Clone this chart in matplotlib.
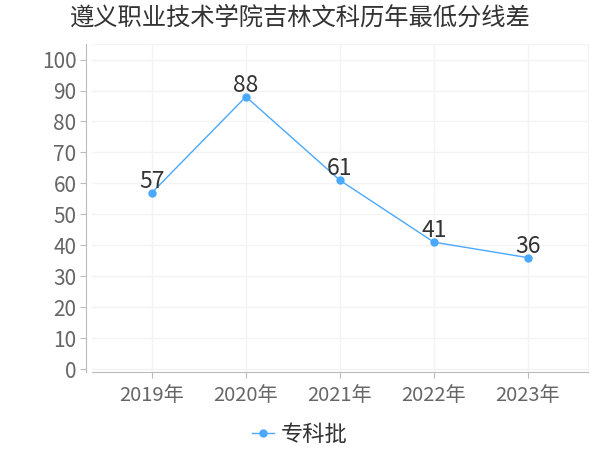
import matplotlib.pyplot as plt

plt.rcParams['font.family'] = ['Noto Sans CJK SC', 'DejaVu Sans']

# Données
years = ['2019年', '2020年', '2021年', '2022年', '2023年']
scores = [57, 88, 61, 41, 36]
series_name = '专科批'
title = '遵义职业技术学院吉林文科历年最低分线差'

line_color = '#4aa8ff'
grid_color = '#f3f3f3'
axis_color = '#bbbbbb'

fig = plt.figure(figsize=(6, 4.5), dpi=100)
ax = fig.add_axes([0.153, 0.173, 0.827, 0.729])

x = list(range(len(years)))
ax.plot(x, scores, color=line_color, lw=1, marker='o', markersize=5,
        label=series_name, zorder=3)

# Étiquettes des valeurs
for xi, v in zip(x, scores):
    ax.annotate(str(v), (xi, v), xytext=(0, 0), textcoords='offset points',
                ha='center', va='bottom', fontsize=16.5, color='#333333', zorder=4)

ax.set_xlim(-0.64, 4.64)
ax.set_ylim(-1, 105)
ax.set_yticks(range(0, 101, 10))
ax.set_xticks(x)
ax.set_xticklabels(years)

ax.grid(True, color=grid_color, lw=1, zorder=0)
ax.tick_params(axis='y', labelsize=15, colors='#666666', length=4, color=axis_color, pad=3)
ax.tick_params(axis='x', labelsize=14.5, colors='#666666', length=4, color=axis_color, pad=5)

ax.spines['left'].set_position(('outward', 4))
ax.spines['left'].set_color(axis_color)
ax.spines['bottom'].set_color(axis_color)
ax.spines['top'].set_color(grid_color)
ax.spines['right'].set_color(grid_color)

fig.suptitle(title, fontsize=17.5, color='#333333', y=0.99)

fig.legend(loc='lower center', bbox_to_anchor=(0.5, -0.035), frameon=False,
           fontsize=16, handlelength=1.0, handletextpad=0.3,
           labelcolor='#333333')

fig.savefig('out.png', dpi=100)
